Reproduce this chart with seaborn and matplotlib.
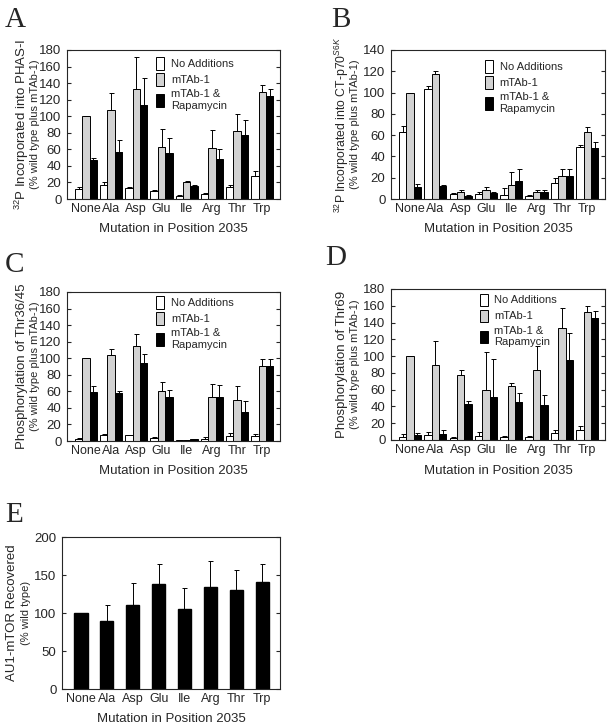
"""
Five-panel bar figure: effect of mutations at position 2035 on mTOR kinase activity.
"""
import numpy as np
import pandas as pd
import matplotlib
matplotlib.use("Agg")
import matplotlib.pyplot as plt
from matplotlib.patches import Patch
import seaborn as sns

# Data
mutations = ['None', 'Ala', 'Asp', 'Glu', 'Ile', 'Arg', 'Thr', 'Trp']
conditions = ['No Additions', 'mTAb-1', 'mTAb-1 &\nRapamycin']
colors = ['white', '#d2d2d2', 'black']

# A: PHAS-I
a_none = [12, 17, 13, 10, 4, 6, 14, 28]
a_none_err = [3, 4, 1, 1, 1, 1, 3, 6]
a_mtab = [100, 108, 133, 63, 21, 62, 82, 129]
a_mtab_err = [0, 20, 39, 21, 1, 21, 21, 9]
a_rapa = [47, 57, 114, 55, 16, 48, 77, 125]
a_rapa_err = [2, 14, 32, 19, 1, 13, 18, 8]

# B: CT-p70S6K
b_none = [63, 103, 5, 5, 4, 3, 15, 49]
b_none_err = [6, 3, 1, 2, 6, 1, 5, 2]
b_mtab = [100, 117, 7, 8, 13, 7, 22, 63]
b_mtab_err = [0, 3, 1, 3, 12, 1, 6, 5]
b_rapa = [11, 12, 3, 6, 17, 7, 22, 48]
b_rapa_err = [3, 1, 0.5, 1, 11, 1, 6, 6]

# C: Thr36/45
c_none = [3, 7, 7, 4, 1, 3, 6, 6]
c_none_err = [0.5, 2, 0, 1, 0, 2, 4, 2]
c_mtab = [100, 104, 115, 61, 1.5, 53, 49, 91]
c_mtab_err = [0, 7, 14, 10, 0, 16, 18, 8]
c_rapa = [59, 58, 94, 53, 2, 53, 35, 91]
c_rapa_err = [8, 3, 11, 9, 0.5, 15, 13, 8]

# D: Thr69
d_none = [4, 6, 2, 5, 3, 3, 8, 12]
d_none_err = [3, 3, 1, 5, 2, 2, 4, 5]
d_mtab = [100, 90, 77, 60, 64, 84, 134, 153]
d_mtab_err = [0, 28, 6, 45, 4, 28, 23, 7]
d_rapa = [6, 7, 43, 51, 45, 42, 95, 145]
d_rapa_err = [2, 5, 3, 45, 11, 12, 33, 9]

# E: AU1-mTOR recovered
e_vals = [100, 89, 110, 138, 105, 134, 130, 141]
e_err = [0, 21, 30, 27, 28, 34, 26, 24]

sns.set_style("ticks")
plt.rcParams['font.family'] = ['Liberation Sans', 'DejaVu Sans']
plt.rcParams['mathtext.fontset'] = 'custom'
plt.rcParams['mathtext.rm'] = 'Liberation Sans'
plt.rcParams['mathtext.it'] = 'Liberation Sans:italic'
plt.rcParams['mathtext.bf'] = 'Liberation Sans:bold'

W, H = 610, 724
fig = plt.figure(figsize=(W / 100, H / 100), dpi=100)


def px_axes(left, top, right, bottom):
    return fig.add_axes([left / W, 1 - bottom / H, (right - left) / W, (bottom - top) / H])


def style_axes(ax, ymax, step, xlim):
    ax.set_ylim(0, ymax)
    ax.set_yticks(np.arange(0, ymax + 1, step))
    ax.set_xlim(*xlim)
    ax.tick_params(axis='y', direction='in', length=3, width=0.8, right=True,
                   labelsize=9.5, pad=4)
    ax.tick_params(axis='x', length=0, labelsize=9, pad=3)
    for s in ax.spines.values():
        s.set_linewidth(0.8)
        s.set_visible(True)
    ax.set_xlabel('Mutation in Position 2035', fontsize=9.5, labelpad=6)
    ax.set_ylabel('')


def ylabels(ax, line1, line2, x1, x2, size1=9.5):
    ax.text(x1, 0.5, line1, transform=ax.transAxes, rotation=90,
            ha='center', va='center', fontsize=size1)
    ax.text(x2, 0.5, line2, transform=ax.transAxes, rotation=90,
            ha='center', va='center', fontsize=8)


def grouped_panel(ax, series, errs, ymax, step, legend_xy):
    df = pd.DataFrame({
        'mutation': mutations * 3,
        'condition': np.repeat(conditions, len(mutations)),
        'value': np.concatenate(series),
    })
    sns.barplot(data=df, x='mutation', y='value', hue='condition',
                hue_order=conditions, order=mutations, palette=colors,
                edgecolor='black', linewidth=0.7, width=0.88, gap=0,
                errorbar=None, legend=False, ax=ax)
    for cont, err in zip(ax.containers, errs):
        xs = [p.get_x() + p.get_width() / 2 for p in cont]
        ys = [p.get_height() for p in cont]
        ax.errorbar(xs, ys, yerr=[np.zeros(len(err)), err], fmt='none',
                    ecolor='black', elinewidth=0.7, capsize=1.8, capthick=0.7)
    style_axes(ax, ymax, step, (-0.75, 7.7))
    handles = [Patch(facecolor=c, edgecolor='black', linewidth=0.7) for c in colors]
    ax.legend(handles, conditions, loc='upper left', bbox_to_anchor=legend_xy,
              frameon=False, fontsize=8, handlelength=0.7, handleheight=1.3,
              handletextpad=0.6, labelspacing=0.35, borderaxespad=0, borderpad=0)


# Panel A
axA = px_axes(67, 50, 280, 199)
grouped_panel(axA, [a_none, a_mtab, a_rapa], [a_none_err, a_mtab_err, a_rapa_err],
              180, 20, (0.42, 0.95))
ylabels(axA, '$^{32}$P Incorporated into PHAS-I', '(% wild type plus mTAb-1)', -0.21, -0.15)

# Panel B
axB = px_axes(391, 50, 605, 199)
grouped_panel(axB, [b_none, b_mtab, b_rapa], [b_none_err, b_mtab_err, b_rapa_err],
              140, 20, (0.44, 0.93))
ylabels(axB, '$^{32}$P Incorporated into CT-p70$^{S6K}$', '(% wild type plus mTAb-1)',
        -0.23, -0.17, size1=8.8)

# Panel C
axC = px_axes(67, 292, 280, 441)
grouped_panel(axC, [c_none, c_mtab, c_rapa], [c_none_err, c_mtab_err, c_rapa_err],
              180, 20, (0.42, 0.97))
ylabels(axC, 'Phosphorylation of Thr36/45', '(% wild type plus mTAb-1)', -0.21, -0.15)

# Panel D
axD = px_axes(391, 289, 605, 440)
grouped_panel(axD, [d_none, d_mtab, d_rapa], [d_none_err, d_mtab_err, d_rapa_err],
              180, 20, (0.415, 0.97))
ylabels(axD, 'Phosphorylation of Thr69', '(% wild type plus mTAb-1)', -0.23, -0.17)

# Panel E
axE = px_axes(62, 537, 280, 689)
sns.barplot(x=mutations, y=e_vals, color='black', edgecolor='black',
            width=0.51, errorbar=None, ax=axE)
exs = [p.get_x() + p.get_width() / 2 for p in axE.containers[0]]
axE.errorbar(exs, e_vals, yerr=[np.zeros(len(e_err)), e_err], fmt='none',
             ecolor='black', elinewidth=0.7, capsize=1.8, capthick=0.7)
style_axes(axE, 200, 50, (-0.73, 7.69))
ylabels(axE, 'AU1-mTOR Recovered', '(% wild type)', -0.23, -0.165)

# Panel letters
for letter, x, y in [('A', 5, 27), ('B', 331, 27), ('C', 5, 272), ('D', 325, 265), ('E', 5, 522)]:
    fig.text(x / W, 1 - y / H, letter, fontsize=21, family='Liberation Serif',
             ha='left', va='baseline')

fig.savefig('out.png', dpi=100)
